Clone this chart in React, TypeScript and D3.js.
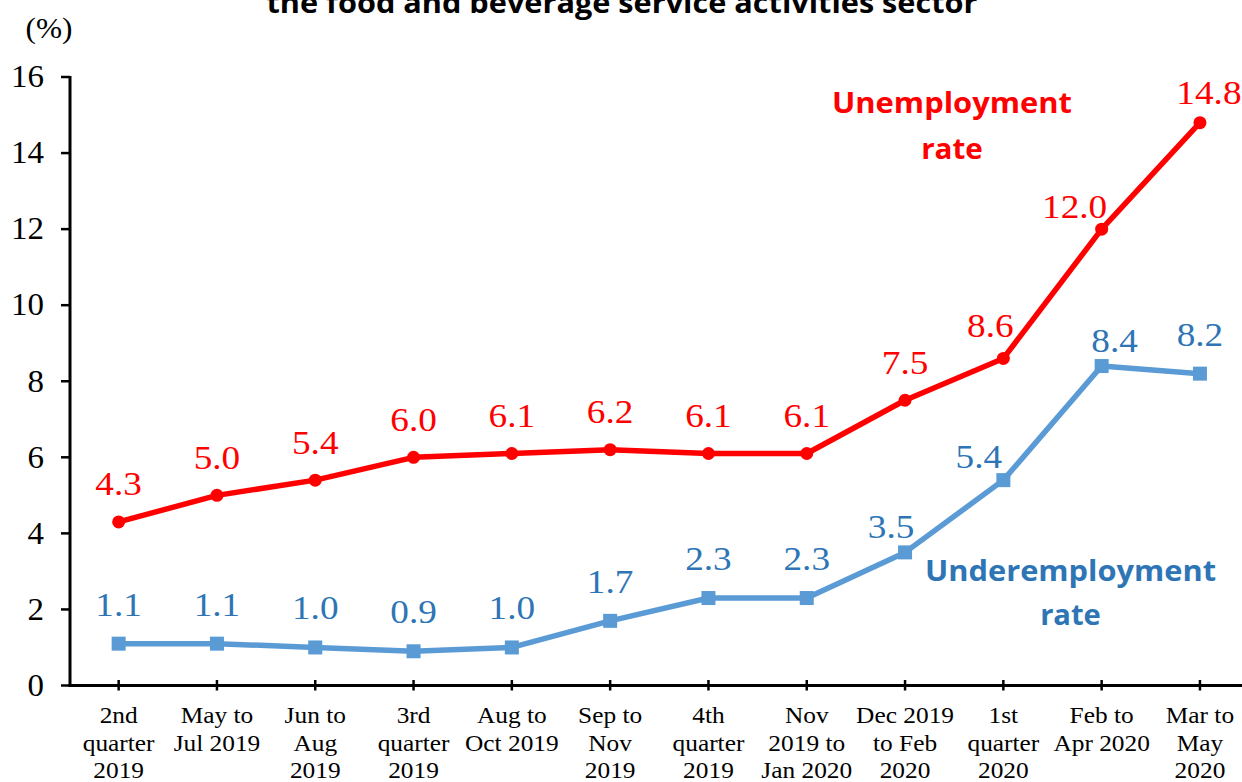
import React from "react";
import * as d3 from "d3";

const categories: string[][] = [
  ["2nd", "quarter", "2019"],
  ["May to", "Jul 2019"],
  ["Jun to", "Aug", "2019"],
  ["3rd", "quarter", "2019"],
  ["Aug to", "Oct 2019"],
  ["Sep to", "Nov", "2019"],
  ["4th", "quarter", "2019"],
  ["Nov", "2019 to", "Jan 2020"],
  ["Dec 2019", "to Feb", "2020"],
  ["1st", "quarter", "2020"],
  ["Feb to", "Apr 2020"],
  ["Mar to", "May", "2020"],
];
const unemployment: number[] = [4.3, 5.0, 5.4, 6.0, 6.1, 6.2, 6.1, 6.1, 7.5, 8.6, 12.0, 14.8];
const underemployment: number[] = [1.1, 1.1, 1.0, 0.9, 1.0, 1.7, 2.3, 2.3, 3.5, 5.4, 8.4, 8.2];
const yTicks: number[] = [0, 2, 4, 6, 8, 10, 12, 14, 16];

const title = "the food and beverage service activities sector";
const unitLabel = "(%)";

// label offsets (layout only): [dx, dy baseline relative to point]
const redOffsets: Record<number, [number, number]> = {
  9: [-13, -21],
  10: [-27, -11],
  11: [9, -18.6],
};
const blueOffsets: Record<number, [number, number]> = {
  8: [-14, -14.5],
  9: [-24.5, -12],
  10: [13, -14],
};

const W = 1242;
const H = 782;
const SERIF = "Liberation Serif, Times New Roman, Times, serif";
const SANS = "Open Sans, Liberation Sans, sans-serif";
const STRETCH = 1.08;
const RED = "#FF0000";
const BLUE = "#5B9BD5";
const BLUE_TEXT = "#2E75B6";

function SText({ x, y, size, fill, anchor = "middle", children }: any) {
  return (
    <text
      transform={`translate(${x},${y}) scale(${STRETCH},1)`}
      style={{ fontFamily: SERIF, fontSize: size }}
      fill={fill}
      textAnchor={anchor}
    >
      {children}
    </text>
  );
}

export default function App() {
  const x = d3
    .scaleBand<number>()
    .domain(d3.range(categories.length))
    .range([69.5, 69.5 + 98.3 * categories.length])
    .padding(0);
  const cx = (i: number) => (x(i) as number) + x.bandwidth() / 2;
  const y = d3.scaleLinear().domain([0, 16]).range([685.5, 77]);

  const line = d3
    .line<number>()
    .x((_, i) => cx(i))
    .y((d) => y(d));

  const axisX0 = 70;
  const axisY0 = y(0);

  return (
    <svg
      width={W}
      height={H}
      viewBox={`0 0 ${W} ${H}`}
      style={{ position: "absolute", left: 0, top: 0, background: "#fff" }}
    >
      <rect x={0} y={0} width={W} height={H} fill="#fff" />
      {/* title (top line cut off in the reference) */}
      <text
        x={622}
        y={12.5}
        style={{ fontFamily: SANS, fontWeight: 700, fontSize: 29 }}
        textAnchor="middle"
        textLength={711}
        lengthAdjust="spacingAndGlyphs"
        fill="#000"
      >
        {title}
      </text>

      <SText x={49} y={37.5} size={29} fill="#000">
        {unitLabel}
      </SText>

      {/* y axis */}
      <line x1={axisX0} x2={axisX0} y1={y(16) - 1} y2={axisY0 + 1.5} stroke="#000" strokeWidth={3} />
      {yTicks.map((t) => (
        <g key={t}>
          <line x1={axisX0 - 9} x2={axisX0} y1={y(t)} y2={y(t)} stroke="#000" strokeWidth={2.5} />
          <SText x={44} y={y(t) + 10.3} size={30.5} fill="#000" anchor="end">
            {t}
          </SText>
        </g>
      ))}

      {/* x axis */}
      <line x1={axisX0 - 1.5} x2={W + 10} y1={axisY0} y2={axisY0} stroke="#000" strokeWidth={3} />
      {categories.map((c, i) => (
        <g key={i}>
          <line x1={cx(i)} x2={cx(i)} y1={axisY0 - 5.5} y2={axisY0 + 5} stroke="#000" strokeWidth={2.5} />
          {c.map((ln, j) => (
            <SText key={j} x={cx(i)} y={723 + j * 27.6} size={23.5} fill="#000">
              {ln}
            </SText>
          ))}
        </g>
      ))}

      {/* underemployment */}
      <path d={line(underemployment) || ""} fill="none" stroke={BLUE} strokeWidth={5.5} strokeLinejoin="round" />
      {underemployment.map((v, i) => (
        <rect key={i} x={cx(i) - 7} y={y(v) - 7} width={14} height={14} fill={BLUE} />
      ))}

      {/* unemployment */}
      <path d={line(unemployment) || ""} fill="none" stroke={RED} strokeWidth={5.5} strokeLinejoin="round" />
      {unemployment.map((v, i) => (
        <circle key={i} cx={cx(i)} cy={y(v)} r={6.5} fill={RED} />
      ))}

      {/* data labels */}
      {unemployment.map((v, i) => {
        const [dx, dy] = redOffsets[i] || [0, -26.5];
        return (
          <SText key={i} x={cx(i) + dx} y={y(v) + dy} size={34.5} fill={RED}>
            {v.toFixed(1)}
          </SText>
        );
      })}
      {underemployment.map((v, i) => {
        const [dx, dy] = blueOffsets[i] || [0, -28];
        return (
          <SText key={i} x={cx(i) + dx} y={y(v) + dy} size={34.5} fill={BLUE_TEXT}>
            {v.toFixed(1)}
          </SText>
        );
      })}

      {/* series annotations */}
      <text x={952} y={113} style={{ fontFamily: SANS, fontWeight: 700, fontSize: 29 }} fill={RED} textAnchor="middle" textLength={240} lengthAdjust="spacingAndGlyphs">
        Unemployment
      </text>
      <text x={952} y={159.3} style={{ fontFamily: SANS, fontWeight: 700, fontSize: 29 }} fill={RED} textAnchor="middle" textLength={61.7} lengthAdjust="spacingAndGlyphs">
        rate
      </text>
      <text x={1070.5} y={580.7} style={{ fontFamily: SANS, fontWeight: 700, fontSize: 29 }} fill={BLUE_TEXT} textAnchor="middle" textLength={291} lengthAdjust="spacingAndGlyphs">
        Underemployment
      </text>
      <text x={1070.5} y={625} style={{ fontFamily: SANS, fontWeight: 700, fontSize: 29 }} fill={BLUE_TEXT} textAnchor="middle" textLength={60.7} lengthAdjust="spacingAndGlyphs">
        rate
      </text>
    </svg>
  );
}
